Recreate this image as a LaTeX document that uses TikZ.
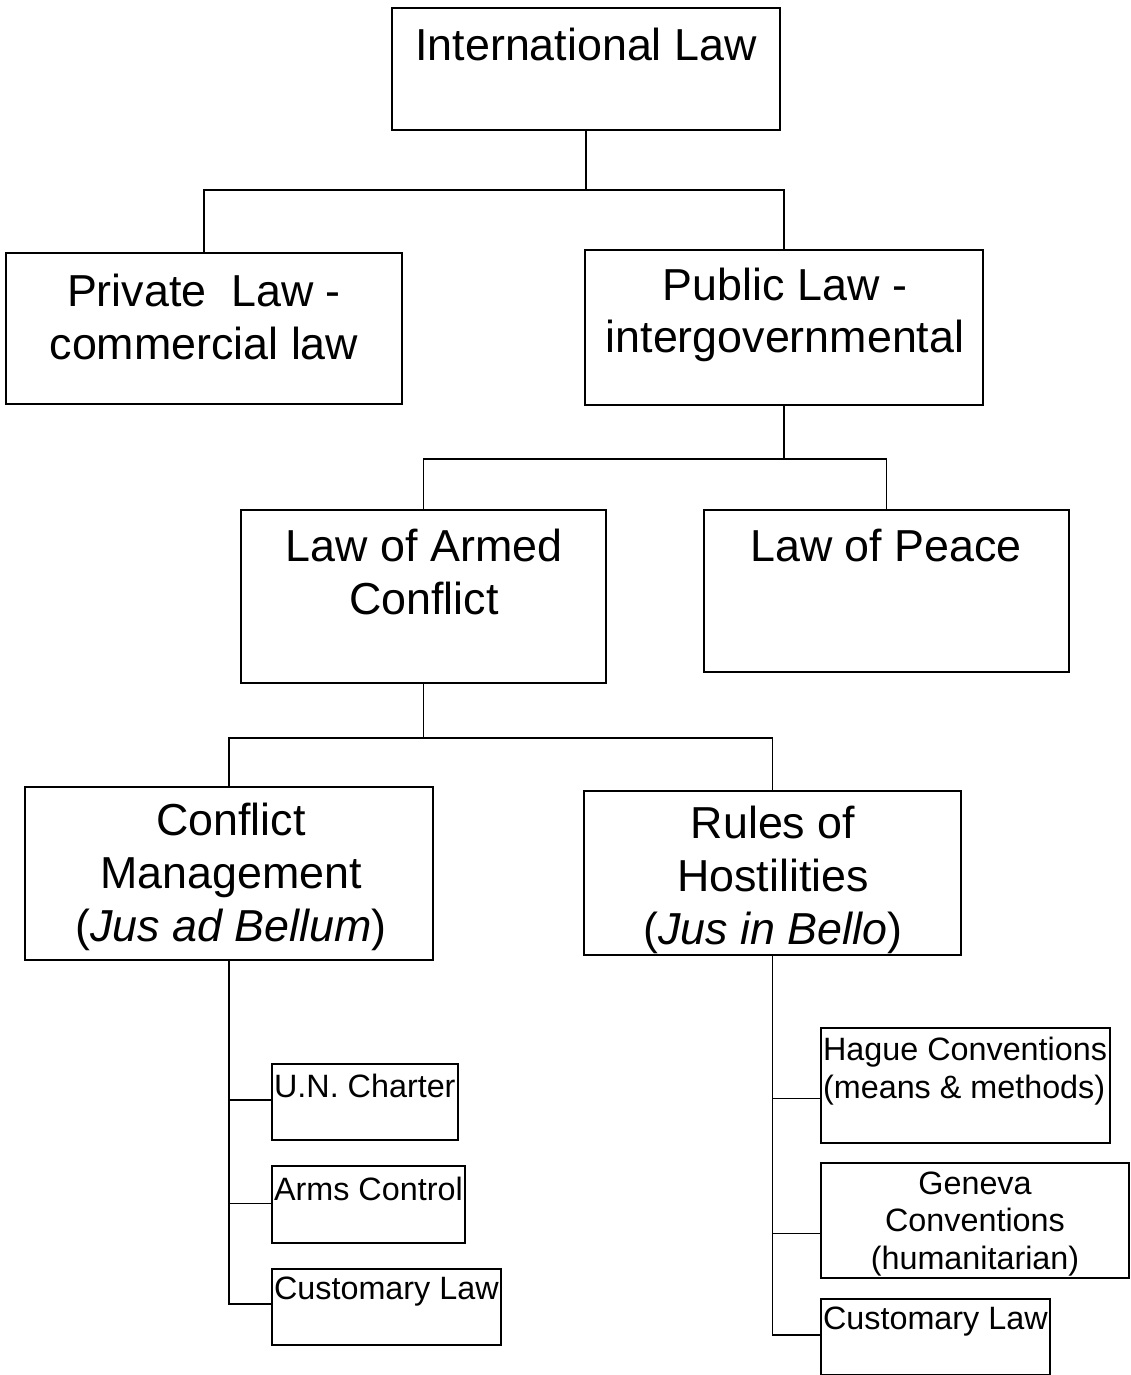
\documentclass[tikz,border=0pt]{standalone}
\usepackage{fontspec}
\setmainfont{Liberation Sans}
\usetikzlibrary{fit,calc}

\tikzset{
  box/.style={draw, line width=0.9pt, inner sep=0pt},
  bigtxt/.style={font=\fontsize{25.5}{30}\selectfont, align=center, inner sep=0pt},
  smalltxt/.style={font=\fontsize{18.4}{21.5}\selectfont, inner sep=1pt},
  link/.style={line width=0.9pt}
}

\begin{document}
\begin{tikzpicture}[x=0.02cm,y=-0.02cm]
  \useasboundingbox[fill=white] (0,0) rectangle (1131,1375);

  % boxes
  \node[box, fit={(392,8) (780,130)}] (intl) {};
  \node[box, fit={(6,253) (402,404)}] (priv) {};
  \node[box, fit={(585,250) (983,405)}] (pub) {};
  \node[box, fit={(241,510) (606,683)}] (armed) {};
  \node[box, fit={(704,510) (1069,672)}] (peace) {};
  \node[box, fit={(25,787) (433,960)}] (mgmt) {};
  \node[box, fit={(584,791) (961,955)}] (hostil) {};
  \node[box, fit={(272,1064) (458,1140)}] (charter) {};
  \node[box, fit={(272,1166) (465,1243)}] (arms) {};
  \node[box, fit={(272,1269) (501,1345)}] (custleft) {};
  \node[box, fit={(821,1028) (1110,1143)}] (hague) {};
  \node[box, fit={(821,1163) (1129,1278)}] (geneva) {};
  \node[box, fit={(821,1299) (1050,1375)}] (custright) {};

  % texts
  \node[bigtxt] (intltxt) at (586,44) {International Law};
  \node[bigtxt] (privtxt) at (204,317) {Private\ \ Law -\\commercial law};
  \node[bigtxt] (pubtxt) at (785,315) {Public Law -\\intergovernmental};
  \node[bigtxt] (armedtxt) at (424,572) {Law of Armed\\Conflict};
  \node[bigtxt] (peacetxt) at (886,546) {Law of Peace};
  \node[bigtxt] (mgmttxt) at (231,877) {Conflict\\Management\\(\textit{Jus ad Bellum})};
  \node[bigtxt] (hostiltxt) at (773,880) {Rules of\\Hostilities\\(\textit{Jus in Bello})};
  \node[smalltxt, anchor=west] (chartertxt) at (272,1086) {U.N. Charter};
  \node[smalltxt, anchor=west] (armstxt) at (272,1189) {Arms Control};
  \node[smalltxt, anchor=west] (custlefttxt) at (272,1292) {Customary Law};
  \node[smalltxt, anchor=west, align=left] (haguetxt) at (821,1071) {Hague Conventions\\(means \& methods)};
  \node[smalltxt, align=center] (genevatxt) at (975,1224) {Geneva\\Conventions\\(humanitarian)};
  \node[smalltxt, anchor=west] (custrighttxt) at (821,1322) {Customary Law};

  % connectors
  \coordinate (j1) at ($(intl.south)+(0,59)$);
  \draw[link] (intl.south) -- (j1) -| (priv.north);
  \draw[link] (j1) -| (pub.north);

  \coordinate (j2) at ($(pub.south)+(0,53)$);
  \draw[link] (pub.south) -- (j2) -| (armed.north);
  \draw[link] (j2) -| (peace.north);

  \coordinate (j3) at ($(armed.south)+(0,54)$);
  \draw[link] (armed.south) -- (j3) -| (mgmt.north);
  \draw[link] (j3) -| (hostil.north);

  \draw[link] (mgmt.south) |- ($(charter.west)+(0,-2)$);
  \draw[link] (mgmt.south) |- ($(arms.west)+(0,-1)$);
  \draw[link] (mgmt.south) |- ($(custleft.west)+(0,-3)$);

  \draw[link] (hostil.south) |- ($(hague.west)+(0,13)$);
  \draw[link] (hostil.south) |- ($(geneva.west)+(0,13)$);
  \draw[link] (hostil.south) |- ($(custright.west)+(0,-2)$);
\end{tikzpicture}
\end{document}
